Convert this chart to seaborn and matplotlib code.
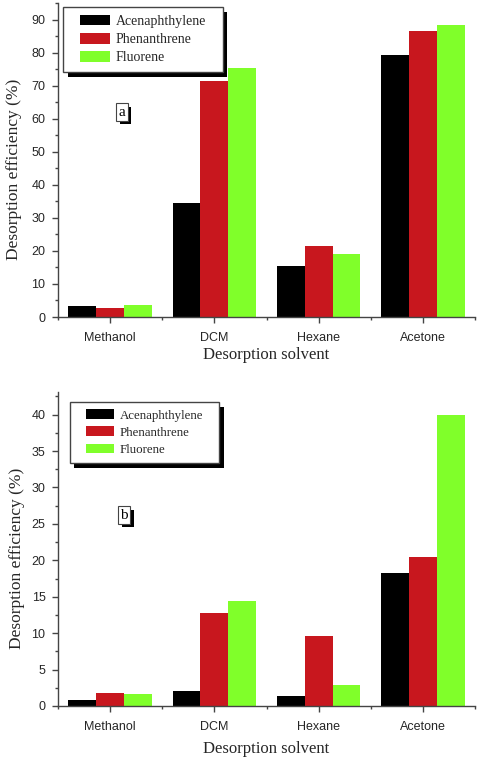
import matplotlib
matplotlib.use("Agg")
import matplotlib.pyplot as plt
import matplotlib.transforms as mtrans
from matplotlib.patches import Rectangle
from matplotlib.ticker import MultipleLocator, FixedLocator
import pandas as pd
import seaborn as sns

# ---------------------------------------------------------------------------
# data
# ---------------------------------------------------------------------------
solvents = ["Methanol", "DCM", "Hexane", "Acetone"]
compounds = ["Acenaphthylene", "Phenanthrene", "Fluorene"]
colors = ["#000000", "#C8171E", "#80FF2A"]

# panel a
a_acenaphthylene = [3.4, 34.4, 15.3, 79.4]
a_phenanthrene = [2.8, 71.5, 21.4, 86.5]
a_fluorene = [3.6, 75.2, 19.2, 88.3]

# panel b
b_acenaphthylene = [0.8, 2.1, 1.4, 18.2]
b_phenanthrene = [1.8, 12.8, 9.6, 20.4]
b_fluorene = [1.6, 14.4, 2.9, 40.0]

sns.set_style("white")
plt.rcParams["font.family"] = ["Liberation Sans", "DejaVu Sans"]
SERIF = ["Liberation Serif", "DejaVu Serif"]
SPINE = "#444444"


def long_frame(series):
    rows = []
    for comp, vals in zip(compounds, series):
        for solv, v in zip(solvents, vals):
            rows.append({"solvent": solv, "compound": comp, "eff": v})
    return pd.DataFrame(rows)


def draw_panel(ax, series, ymax, major, minor, tag, tag_xy, leg_anchor,
               leg_size, ylab_x, xlab_y):
    df = long_frame(series)
    sns.barplot(data=df, x="solvent", y="eff", hue="compound",
                order=solvents, hue_order=compounds, palette=colors,
                saturation=1, width=0.8, errorbar=None, linewidth=0, ax=ax)
    ax.set_xlim(-0.5, 3.5)
    ax.set_ylim(0, ymax)

    # spines / ticks
    for s in ["top", "right"]:
        ax.spines[s].set_visible(False)
    for s in ["left", "bottom"]:
        ax.spines[s].set_color(SPINE)
        ax.spines[s].set_linewidth(1.0)
    ax.yaxis.set_major_locator(MultipleLocator(major))
    ax.yaxis.set_minor_locator(MultipleLocator(minor))
    ax.xaxis.set_minor_locator(FixedLocator([-0.5, 0.5, 1.5, 2.5, 3.5]))
    ax.tick_params(axis="both", which="major", direction="out", length=4,
                   width=1, color=SPINE, labelsize=9)
    ax.tick_params(axis="both", which="minor", direction="out", length=2.5,
                   width=1, color=SPINE)
    ax.tick_params(axis="x", which="major", pad=7)
    ax.tick_params(axis="y", which="major", pad=5, left=True)
    ax.tick_params(axis="y", which="minor", left=True)
    ax.tick_params(axis="x", which="both", bottom=True)

    ax.set_xlabel("Desorption solvent", family=SERIF, fontsize=12, va="top")
    ax.set_ylabel("Desorption efficiency (%)", family=SERIF, fontsize=12.5)
    ax.xaxis.set_label_coords(0.5, xlab_y)
    ax.yaxis.set_label_coords(ylab_x, 0.47)

    # legend: frame and shadow are drawn afterwards
    leg = ax.legend(loc="upper left", bbox_to_anchor=leg_anchor,
                    borderaxespad=0, frameon=False,
                    prop={"family": SERIF, "size": leg_size},
                    handlelength=2.2, handleheight=0.8, handletextpad=0.4,
                    labelspacing=0.37, borderpad=0.55)

    # panel tag in a small box
    txt = ax.text(tag_xy[0], tag_xy[1], tag, family=SERIF, fontsize=11,
                  ha="center", va="center", color="black", zorder=6,
                  bbox=dict(boxstyle="square,pad=0.15", fc="white", ec=SPINE,
                            lw=0.8))
    return leg, txt


def boxed_shadow(fig, ax, bb, zorder, grow_x=0, grow_y=0, dx=4.5, dy=5,
                 frame=True):
    # white frame (optional) plus a solid black drop shadow behind it
    x0, y0 = bb.x0 - grow_x, bb.y0 - grow_y
    w, h = bb.width + 2 * grow_x, bb.height + 2 * grow_y
    shadow = Rectangle((x0 + dx, y0 - dy), w, h,
                       transform=mtrans.IdentityTransform(), facecolor="black",
                       edgecolor="none", zorder=zorder - 0.2)
    ax.add_artist(shadow)
    shadow.set_clip_on(False)
    if frame:
        box = Rectangle((x0, y0), w, h, transform=mtrans.IdentityTransform(),
                        facecolor="white", edgecolor=SPINE, linewidth=1.0,
                        zorder=zorder - 0.1)
        ax.add_artist(box)
        box.set_clip_on(False)


fig = plt.figure(figsize=(4.78, 7.6), dpi=100)
ax_a = fig.add_axes([58 / 478, 1 - 317 / 760, 417 / 478, 314 / 760])
ax_b = fig.add_axes([58 / 478, 1 - 706 / 760, 417 / 478, 314 / 760])

leg_a, tag_a = draw_panel(ax_a, [a_acenaphthylene, a_phenanthrene, a_fluorene],
                          95, 10, 5, "a", (0.114, 62.0), (0.0336, 0.987), 10,
                          -0.087, -0.096)
leg_b, tag_b = draw_panel(ax_b, [b_acenaphthylene, b_phenanthrene, b_fluorene],
                          43.1, 5, 2.5, "b", (0.136, 26.2), (0.050, 0.968), 9.3,
                          -0.078, -0.111)

fig.canvas.draw()
for ax, leg, tag in [(ax_a, leg_a, tag_a), (ax_b, leg_b, tag_b)]:
    boxed_shadow(fig, ax, leg.get_window_extent(), leg.get_zorder(),
                 grow_x=9, grow_y=0)
    boxed_shadow(fig, ax, tag.get_bbox_patch().get_window_extent(),
                 tag.get_zorder(), dx=3.5, dy=3.5, frame=False)

fig.savefig("out.png", dpi=100)
